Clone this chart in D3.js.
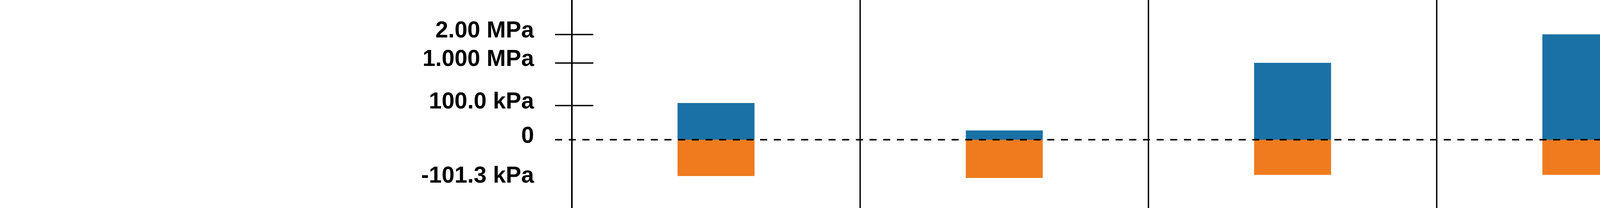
<!DOCTYPE html>
<html lang="en">
  <head>
    <meta charset="UTF-8" />
    <title>Pressure bars</title>
    <style>
      body { margin: 0; background: #fff; }
      text { font-family: "Liberation Sans", Arial, sans-serif; font-weight: bold; }
    </style>
    <script src="https://d3js.org/d3.v7.min.js"></script>
  </head>
  <body>
    <svg width="4416" height="533"></svg>
    <script>
      // values in kPa (gauge)
      var categories = ["1", "2", "3", "4"];
      var positive = [150, 27, 1000, 2000];
      var negative = [-92.4, -97.3, -89.4, -89.4];
      var tickValues = [2000, 1000, 100, 0, -101.3];
      var tickLabels = ["2.00 MPa", "1.000 MPa", "100.0 kPa", "0", "-101.3 kPa"];
      var solidTicks = [2000, 1000, 100];

      var svg = d3.select("svg");
      var width = +svg.attr("width");
      var height = +svg.attr("height");
      var axisX = 1464;

      // piecewise scale, the picture is not linear between ticks
      var y = d3.scaleLinear()
        .domain([-101.3, 0, 100, 1000, 2000])
        .range([460, 358, 270, 161, 88]);

      var x = d3.scaleBand()
        .domain(categories)
        .range([axisX, width])
        .padding(0);

      var barW = x.bandwidth() * 0.267;

      // separators between sections
      svg.append("g")
        .selectAll("line")
        .data(categories.slice(1))
        .join("line")
        .attr("x1", (d) => x(d))
        .attr("x2", (d) => x(d))
        .attr("y1", 0)
        .attr("y2", height)
        .attr("stroke", "#000")
        .attr("stroke-width", 3.5);

      var bars = svg.append("g");
      bars.selectAll("rect.pos")
        .data(positive)
        .join("rect")
        .attr("class", "pos")
        .attr("x", (d, i) => x(categories[i]) + x.bandwidth() / 2 - barW / 2)
        .attr("width", barW)
        .attr("y", (d) => y(d))
        .attr("height", (d) => y(0) - y(d))
        .attr("fill", "#1a71a6");

      bars.selectAll("rect.neg")
        .data(negative)
        .join("rect")
        .attr("class", "neg")
        .attr("x", (d, i) => x(categories[i]) + x.bandwidth() / 2 - barW / 2)
        .attr("width", barW)
        .attr("y", y(0))
        .attr("height", (d) => y(d) - y(0))
        .attr("fill", "#ef7b1e");

      // y axis, ticks sit a bit more right of the axis line than left
      var axis = d3.axisLeft(y)
        .tickValues(tickValues)
        .tickSize(98)
        .tickPadding(54)
        .tickFormat((d, i) => tickLabels[i]);

      var gAxis = svg.append("g")
        .attr("transform", "translate(" + (axisX + 55) + ",0)")
        .call(axis);
      gAxis.select(".domain").remove();
      gAxis.selectAll(".tick line")
        .attr("stroke", "#000")
        .attr("stroke-width", 3.5)
        .attr("display", (d) => (solidTicks.indexOf(d) >= 0 ? null : "none"));
      gAxis.selectAll(".tick text")
        .attr("dy", 7)
        .attr("fill", "#000")
        .attr("font-size", 59)
        .attr("font-family", "Liberation Sans, Arial, sans-serif")
        .attr("font-weight", "bold");

      // main vertical axis line
      svg.append("line")
        .attr("x1", axisX)
        .attr("x2", axisX)
        .attr("y1", 0)
        .attr("y2", height)
        .attr("stroke", "#000")
        .attr("stroke-width", 4);

      // dashed zero line on top of bars
      svg.append("line")
        .attr("x1", axisX - 43)
        .attr("x2", width)
        .attr("y1", y(0))
        .attr("y2", y(0))
        .attr("stroke", "#000")
        .attr("stroke-width", 4)
        .attr("stroke-dasharray", "18,17");
    </script>
  </body>
</html>
